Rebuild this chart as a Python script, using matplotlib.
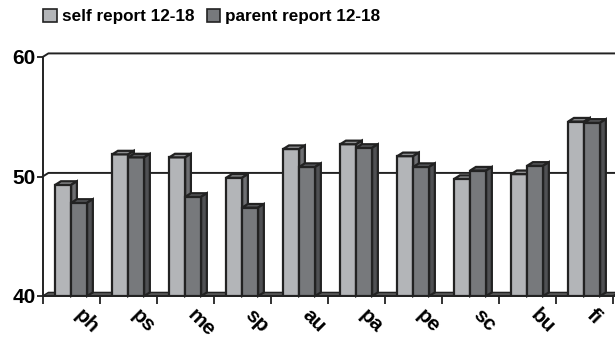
import numpy as np
import matplotlib.pyplot as plt
import matplotlib.transforms as mtransforms
from matplotlib.patches import Polygon, Patch

plt.rcParams['font.family'] = ['Liberation Sans', 'DejaVu Sans']
plt.rcParams['font.weight'] = 'bold'

# data
categories = ['ph', 'ps', 'me', 'sp', 'au', 'pa', 'pe', 'sc', 'bu', 'fi']
self_report = [49.3, 51.85, 51.6, 49.9, 52.3, 52.7, 51.7, 49.8, 50.2, 54.6]
parent_report = [47.8, 51.6, 48.3, 47.4, 50.8, 52.4, 50.8, 50.5, 50.9, 54.5]
series_names = ['self report 12-18', 'parent report 12-18']

# colours: front, top, side
self_cols = ('#b3b5b8', '#8c8d8f', '#6e6f72')
parent_cols = ('#77797c', '#5c5d60', '#4f5053')
edge = '#222222'

ymin, ymax = 40, 60
dx, dy = 0.10, 0.30   # fake 3D depth in data units
width = 0.28

fig = plt.figure(figsize=(6.15, 3.41), dpi=100)
ax = fig.add_axes([42.7 / 615, 45 / 341, 570 / 615, 239 / 341])
ax.set_xlim(-0.5, len(categories) - 0.5)
ax.set_ylim(ymin, ymax)
for s in ax.spines.values():
    s.set_visible(False)

x = np.arange(len(categories))
xl, xr = -0.5, len(categories) - 0.5

# back wall gridlines
for v in [50, 60]:
    ax.plot([xl, xl + dx, xr + dx], [v, v + dy, v + dy], color=edge, lw=1.4,
            clip_on=False, zorder=1)

# floor
ax.add_patch(Polygon([(xl, ymin), (xl + dx, ymin + dy), (xr + dx, ymin + dy), (xr, ymin)],
                     closed=True, facecolor='#555555', edgecolor=edge, lw=1,
                     clip_on=False, zorder=2))


def bar3d(xs, vals, cols, z):
    bars = ax.bar(xs, np.array(vals) - ymin, width, bottom=ymin, color=cols[0],
                  edgecolor=edge, linewidth=1.6, zorder=z)
    for b in bars:
        x0 = b.get_x()
        x1 = x0 + b.get_width()
        top = b.get_y() + b.get_height()
        ax.add_patch(Polygon([(x0, top), (x0 + dx, top + dy), (x1 + dx, top + dy), (x1, top)],
                             closed=True, facecolor=cols[1], edgecolor=edge,
                             lw=1.6, zorder=z, clip_on=False))
        ax.add_patch(Polygon([(x1, ymin), (x1, top), (x1 + dx, top + dy), (x1 + dx, ymin + dy)],
                             closed=True, facecolor=cols[2], edgecolor=edge,
                             lw=1.6, zorder=z, clip_on=False))


for i in range(len(categories)):
    bar3d([x[i] - width / 2], [self_report[i]], self_cols, 3 + 2 * i)
    bar3d([x[i] + width / 2], [parent_report[i]], parent_cols, 4 + 2 * i)

# axes lines
ax.plot([xl, xl], [ymin, ymax], color=edge, lw=1.4, clip_on=False, zorder=30)
ax.plot([xl, xr + dx], [ymin, ymin], color=edge, lw=1.4, clip_on=False, zorder=30)

ax.set_yticks([40, 50, 60])
ax.tick_params(axis='y', length=4, width=1.3, color=edge, labelsize=15, pad=1)
ax.set_xticks(np.arange(len(categories) + 1) - 0.5, minor=True)
ax.set_xticks(x)
ax.set_xticklabels(categories, rotation=-45, ha='left', va='top',
                   rotation_mode='anchor', fontsize=15)
ax.tick_params(axis='x', which='major', length=0, pad=7)
ax.tick_params(axis='x', which='minor', length=6, width=1.3, color=edge)
shift = mtransforms.ScaledTranslation(9 / 72, 0, fig.dpi_scale_trans)
for lab in ax.get_xticklabels():
    lab.set_transform(lab.get_transform() + shift)

handles = [Patch(facecolor=self_cols[0], edgecolor=edge, lw=1.2),
           Patch(facecolor=parent_cols[0], edgecolor=edge, lw=1.2)]
fig.legend(handles, series_names, loc='upper left', bbox_to_anchor=(28 / 615, 1.02),
           ncol=2, frameon=False, fontsize=12.3, handlelength=0.8, handleheight=0.8,
           handletextpad=0.3, columnspacing=0.7)

fig.savefig('out.png', dpi=100, facecolor='white')
